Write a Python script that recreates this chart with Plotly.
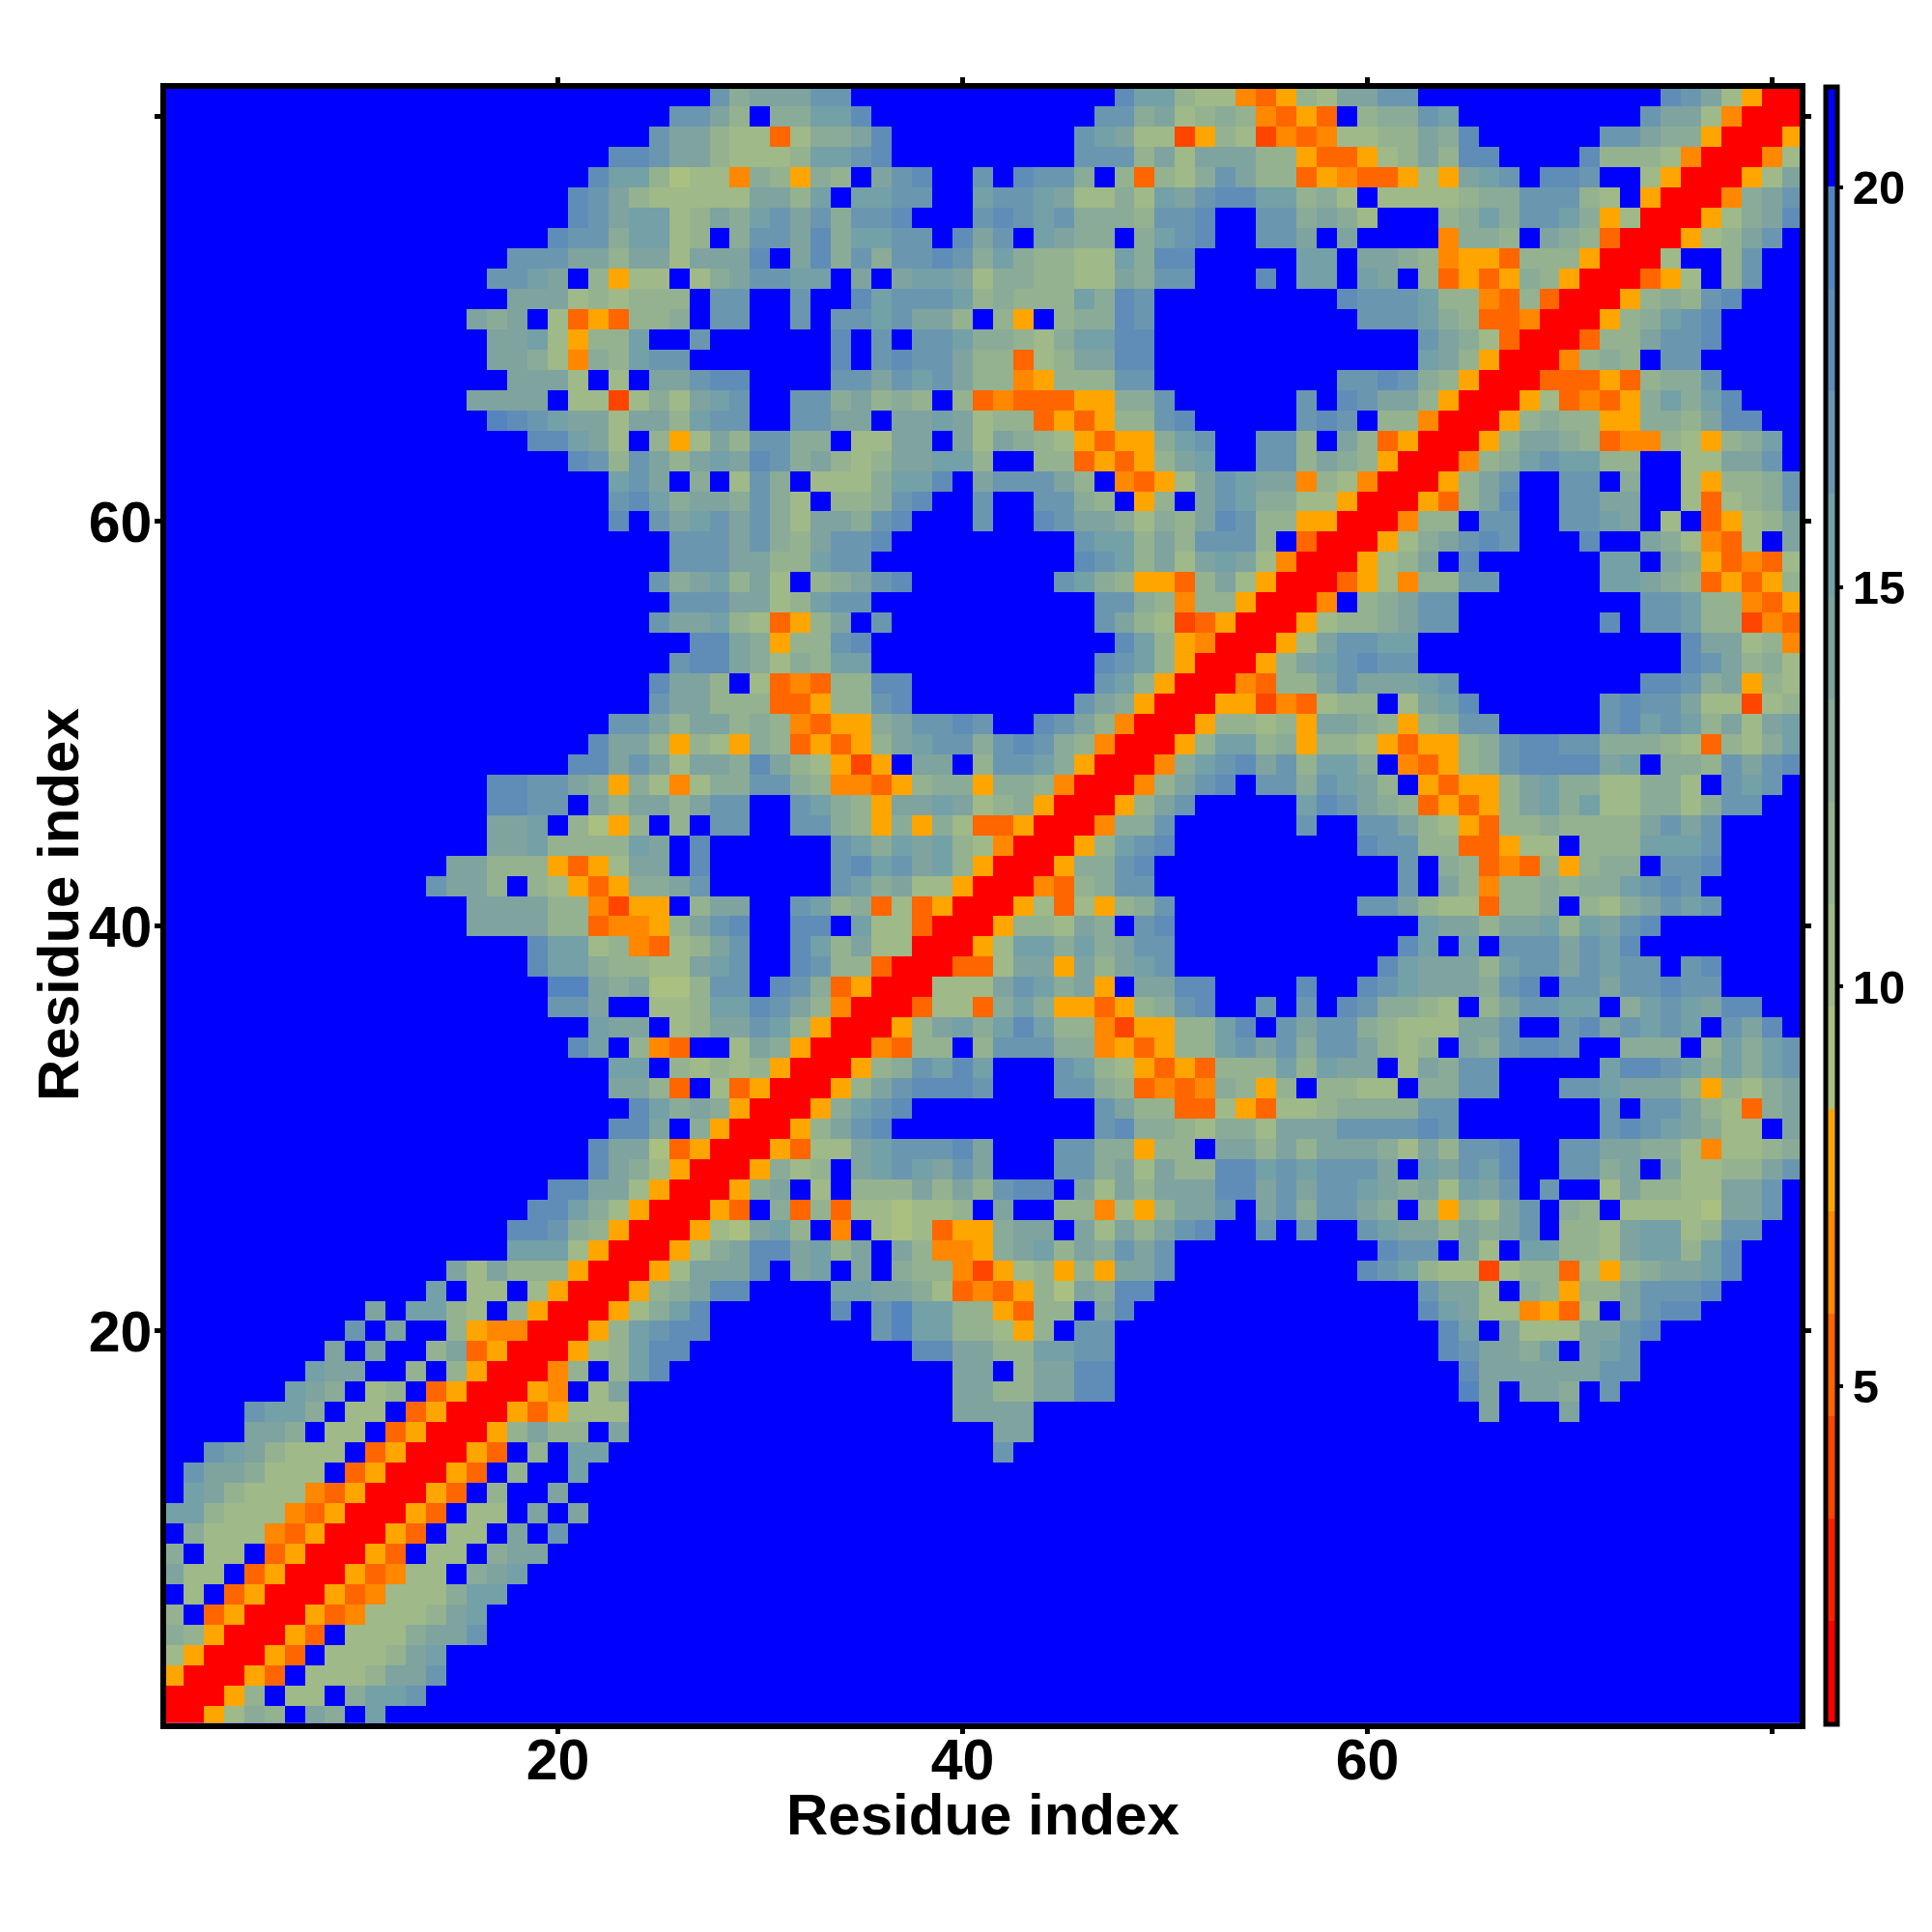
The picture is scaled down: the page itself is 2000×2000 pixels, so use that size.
import sys
import plotly.graph_objects as go

# Band codes: 0=red ... 5=orange, 6..e=green to steel blue, f=blue (>20)
# Each row y holds cells x=y..81; the matrix is symmetric.
F = "f"
r81 = "0"
r80 = "00"
r79 = "005"
r78 = "0047"
r77 = "0057a"
r76 = "0049ac"
r75 = "00579ad"
r74 = "00578acf"
r73 = "007ff8cff"
r72 = "00357f8cff"
r71 = "005898cdfff"
r70 = "00589bcdffff"
r69 = "00388accdffff"
r68 = "004898fccfffff"
r67 = "0033353899cffff"
r66 = "005734359b9bdfff"
r65 = "005898855998addff"
r64 = "0058aa9834487589bf"
r63 = "00489bcbb88ff77aacf"
r62 = "0058acffccf9ff75889c"
r61 = "00538adffccaaff73789c"
r60 = "00488fccffccbaf7f3578a"
r59 = "00579acdcfffdffa97437fa"
r58 = "00578afd" + F*6 + "bbfa953437"
r57 = "00357488cc" + F*5 + "bba9835358"
r56 = "004f89acc" + F*9 + "ccb88435"
r55 = "0057889acc" + F*7 + "dfccb88243"
r54 = "0057accbb" + F*13 + "daa784"
r53 = "0058abcdcc" + F*13 + "dca897"
r52 = "004388acaaabc" + F*9 + "ddc9a587"
r51 = "0055243788f7abd" + F*6 + "cdcca77278"
r50 = "00588785aa98589cc" + F*5 + "cdbcb8a7ab"
r49 = "0058bb89" + "58875355" + "89cddcc9" + "99873879" + "b"
r48 = "0049bcda" + "c8bb9f43" + "589cdddd" + "abf998ca" + "cd"
r47 = "0048acdf" + "cc9cba8f" + "53558ab9" + "977997fc" + "bcf"
r46 = "0058acff" + "fffbdca9" + "835358ab" + "9b779979" + "ccff"
r45 = "00499cff" + "ffffcffc" + "ca875388" + "98888aca" + "cffff"
r44 = "0058bcd" + F*9 + "dcc8833577f888bbbc" + F*4
r43 = "00599cd" + F*12 + "cf9834385899fccd" + F*4
r42 = "004389cc" + F*12 + "cfa84889899bcdc" + F*5
r41 = "005737589c" + F*9 + "cca8773889f879acbc" + F*4
r40 = "005887a9fcd" + F*12 + "baa8aab8bacd" + F*7
r39 = "0057bb9b9acc" + F*11 + "dbfbfcccacbd" + F*8
r38 = "00337aa5a8abc" + F*10 + "dbaaa8bccacbccfcd" + F*4
r37 = "00777acb9a5faadd" + "ffffdffd" + "cbaaa9cdf" + "ccaccdcc" + "ffff"
r36 = "0037739b9553589cd" + "ffcfcfdc" + "9987f8acc" + "bbf9bcbaddff"
r35 = "0058ab9bdb88425588bd" + "fcacc9" + "8777aacff" + "cdacbcbfcadf"
r34 = "004388f8ccc99453588bc" + "ac9cca" + "878fa9cdd" + "cff999f8b9bc"
r33 = "00589cbdbfffcb87535388" + "8b8baa" + "f7a9cc" + "fffff" + "bddcb9b9bc"
r32 = "0058acdddcfffcc98343498" + "58f887" + "7f99cc" + "fff" + "ccbaaa85879a"
r31 = "0059bcd" + F*9 + "ca883375" + "37789999cc" + F*7 + "cfcca8739a"
r30 = "0058acd" + F*10 + "cd998799" + "7aaaccccdc" + F*7 + "cdcba977fa"
r29 = "005377abcccda" + "fff" + "cc99588faa" + "8a8aaa97a8ccd" + "ff" + "ccaa99747789"
r28 = "005978fabcbaca" + "fff" + "cc9a7a88dd" + "bcbcccafbacbd" + "ff" + "cc9afa7788ac"
r27 = "0059af7f888a8a8cddfa7a8aaadd" + "acaccba9a7bacfcff" + "7a8877aacf"
r26 = "0053f9383776778faff884758aacf" + "ac9cca9f8587acf98f" + "77776aacf"
r25 = "00576ab8f4" + "f7673559aa" + "fa7a8acdff" + "cfcffcbaa8a9acf88" + "7abb78ccff"
r24 = "00579addab8afa84459ab8a9cac" + F*10 + "dccfa7fbb887abb8bdfff"
r23 = "0057aaadfa" + "bfaf988425" + "78585aac" + F*9 + "dcb877278837589aabdfff"
r22 = "00589addff" + "ffbbaa9734" + "3586a9dd" + F*13 + "caa7f98588acccd" + F*4
r21 = "00579bd" + F*6 + "dfcebb885388fad" + F*14 + "dba774537facdd" + F*5
r20 = "0058bcdd" + F*8 + "cebb88758fcc" + F*16 + "dbfa777aacd" + F*7
r19 = "00578bdd" + F*11 + "ddaa88bbcc" + F*16 + "dcaa9bfabc" + F*8
r18 = "0048f8bd" + F*14 + "aa" + "f8aadd" + F*17 + "daaaaaacc" + F*8
r17 = "0054f7a" + F*16 + "aa88aadd" + F*17 + "eafaa9fc" + F*9
r16 = "00535777" + F*16 + "aaaa" + F*22 + "a" + F*3 + "a" + F*11
r15 = "0058a88fa" + F*18 + "aa" + F*38
r14 = "0053f8fbb" + F*19 + "c" + F*39
r13 = "0053f8ffb" + F*60
r12 = "0053f8ffa" + F*61
r11 = "0053f77fafa" + F*60
r10 = "0053f77fafc" + F*61
r09 = "0053f77f9aa" + F*62
r08 = "0053477f9ab" + F*63
r07 = "0053477 79bb".replace(" ", "") + F*64
r06 = "005347778ab" + F*65
r05 = "0053f7779aac" + F*65
r04 = "0053f7778ab" + F*67
r03 = "0053f7778aac" + F*67
r02 = "0058f77f9bbc" + F*68
r01 = "005798fa9fb" + F*70

rows = [r01, r02, r03, r04, r05, r06, r07, r08, r09, r10, r11, r12, r13, r14, r15, r16, r17, r18, r19, r20,
        r21, r22, r23, r24, r25, r26, r27, r28, r29, r30, r31, r32, r33, r34, r35, r36, r37, r38, r39, r40,
        r41, r42, r43, r44, r45, r46, r47, r48, r49, r50, r51, r52, r53, r54, r55, r56, r57, r58, r59, r60,
        r61, r62, r63, r64, r65, r66, r67, r68, r69, r70, r71, r72, r73, r74, r75, r76, r77, r78, r79, r80, r81]

residues = list(range(1, 82))
tick_vals = [20, 40, 60, 80]
tick_text = ["20", "40", "60", ""]
cbar_ticks = [5, 10, 15, 20]
axis_title = "Residue index"

z_min = 0.78
z_max = 21.26
band_width = (20 - z_min) / 15
band_edges = [z_min + band_width * k for k in range(16)] + [z_max]
band_colors = ["#FF0000", "#FF2000", "#FF4500", "#FF6600", "#FF8800", "#FFA500",
               "#A9C080", "#9FB988", "#94B28F", "#8AAB97", "#7FA39F", "#74A0A7",
               "#6A97AF", "#5F8DB7", "#5485BE", "#0000FF"]

mid = [(band_edges[k] + band_edges[k + 1]) / 2 for k in range(16)]
n = len(residues)
z = [[mid[15]] * n for _ in range(n)]
for i, s in enumerate(rows):
    if len(s) != n - i:
        print("row", i + 1, "len", len(s), "expected", n - i, file=sys.stderr)
    for d, ch in enumerate(s[:n - i]):
        v = mid[int(ch, 16)]
        z[i][i + d] = v
        z[i + d][i] = v

colorscale = []
for k in range(16):
    a = (band_edges[k] - z_min) / (z_max - z_min)
    b = (band_edges[k + 1] - z_min) / (z_max - z_min)
    colorscale += [[a, band_colors[k]], [b, band_colors[k]]]

OFF = 8
SIZE = 1984
def X(p): return (p - OFF) / SIZE
def Y(p): return 1 - (p - OFF) / SIZE

FONT = "Liberation Sans"
tick_font = dict(family=FONT, size=59, color="black", weight="bold")
title_font = dict(family=FONT, size=60, color="black", weight="bold")

fig = go.Figure(go.Heatmap(
    x=residues, y=residues, z=z, zmin=z_min, zmax=z_max, colorscale=colorscale, zsmooth=False,
    colorbar=dict(
        x=X(1889.5), xanchor="left", xpad=0, ypad=0, y=Y(1784.5), yanchor="bottom",
        lenmode="fraction", len=(1784.5 - 89.7) / SIZE, thickness=12,
        outlinewidth=5, outlinecolor="black", borderwidth=0,
        tickmode="array", tickvals=cbar_ticks, ticks="outside", ticklen=4, tickwidth=4, tickcolor="black",
        tickfont=dict(family=FONT, size=49, color="black", weight="bold"),
    ),
))
common = dict(
    showgrid=False, zeroline=False, showline=True, linecolor="black", linewidth=5.5, mirror="ticks",
    ticks="outside", ticklen=6, tickwidth=5, tickcolor="black", tickmode="array",
    tickvals=tick_vals, ticktext=tick_text, tickfont=tick_font, automargin=False,
)
fig.update_xaxes(range=[0.65, 81.37], domain=[X(172), X(1863.4)], ticklabelstandoff=-24, **common)
fig.update_yaxes(range=[0.645, 81.38], domain=[Y(1783.5), Y(92)], ticklabelstandoff=-9, **common)
fig.add_annotation(text=axis_title, xref="paper", yref="paper", x=X(1018), y=Y(1878),
                   xanchor="center", yanchor="middle", showarrow=False, font=title_font)
fig.add_annotation(text=axis_title, xref="paper", yref="paper", x=X(60), y=Y(937),
                   xanchor="center", yanchor="middle", textangle=-90, showarrow=False, font=title_font)
fig.update_layout(width=SIZE, height=SIZE, paper_bgcolor="white", plot_bgcolor="#0000FF",
                  margin=dict(l=0, r=0, t=0, b=0, autoexpand=False))
fig.write_html("out.html")
